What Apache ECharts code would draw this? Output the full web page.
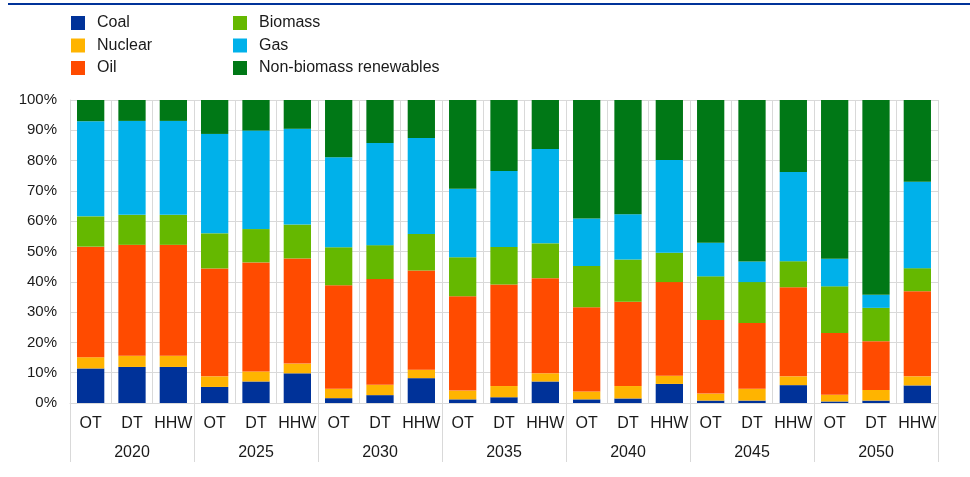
<!DOCTYPE html>
<html>
<head>
<meta charset="utf-8">
<script src="https://cdn.jsdelivr.net/npm/echarts@6/dist/echarts.min.js"></script>
<style>
  html, body { margin: 0; padding: 0; background: #fff; }
  #chart { width: 970px; height: 477px; }
</style>
</head>
<body>
<div id="chart"></div>
<script>
// Energy mix shares by scenario (OT, DT, HHW) for each year, % of total
const years = ['2020', '2025', '2030', '2035', '2040', '2045', '2050'];
const scenarios = ['OT', 'DT', 'HHW'];
const categories = years.flatMap(() => scenarios);

const coal       = [11.4, 11.9, 11.9,  5.3,  7.1,  9.8,  1.6,  2.6,  8.2,  1.2,  1.9,  7.1,  1.2,  1.5,  6.3,  0.8,  0.8,  5.9,  0.5,  0.8,  5.8];
const nuclear    = [ 3.7,  3.7,  3.7,  3.5,  3.3,  3.2,  3.1,  3.4,  2.8,  2.9,  3.7,  2.7,  2.6,  4.1,  2.7,  2.3,  3.9,  2.9,  2.2,  3.5,  3.0];
const oil        = [36.5, 36.6, 36.6, 35.6, 36.0, 34.7, 34.2, 34.9, 32.7, 31.1, 33.5, 31.4, 27.8, 27.8, 30.9, 24.3, 21.7, 29.4, 20.4, 16.1, 28.1];
const biomass    = [10.0,  9.9,  9.9, 11.6, 11.0, 11.2, 12.5, 11.2, 12.1, 12.9, 12.4, 11.5, 13.6, 14.0,  9.7, 14.4, 13.5,  8.6, 15.4, 11.0,  7.6];
const gas        = [31.4, 31.0, 31.0, 32.8, 32.5, 31.6, 29.7, 33.7, 31.7, 22.6, 25.1, 31.1, 15.7, 14.9, 30.6, 11.1,  6.8, 29.4,  9.1,  4.3, 28.5];
const renewables = [ 7.0,  6.9,  6.9, 11.2, 10.1,  9.5, 18.9, 14.2, 12.5, 29.3, 23.4, 16.2, 39.1, 37.7, 19.8, 47.1, 53.3, 23.8, 52.4, 64.3, 27.0];

const yTicks = [0, 10, 20, 30, 40, 50, 60, 70, 80, 90, 100];

const seriesDefs = [
  { name: 'Coal', data: coal, color: '#003299' },
  { name: 'Nuclear', data: nuclear, color: '#ffb400' },
  { name: 'Oil', data: oil, color: '#ff4b00' },
  { name: 'Biomass', data: biomass, color: '#65b800' },
  { name: 'Gas', data: gas, color: '#00b1ea' },
  { name: 'Non-biomass renewables', data: renewables, color: '#007816' }
];

const FONT = '"Liberation Sans", Arial, sans-serif';
const GRID_COLOR = '#d9d9d9';
const TEXT_COLOR = '#1a1a1a';

const chart = echarts.init(document.getElementById('chart'), null, { renderer: 'canvas' });

const legendBase = {
  orient: 'vertical',
  top: 15,
  padding: 0,
  itemWidth: 14,
  itemHeight: 14,
  itemGap: 6.5,
  icon: 'rect',
  selectedMode: false,
  textStyle: {
    fontFamily: FONT,
    fontSize: 16,
    lineHeight: 16,
    color: TEXT_COLOR,
    padding: [0, 0, 0, 7]
  }
};

chart.setOption({
  animation: false,
  textStyle: { fontFamily: FONT },
  graphic: [
    {
      type: 'rect',
      shape: { x: 8, y: 3, width: 962, height: 2 },
      style: { fill: '#003299' },
      silent: true
    }
  ],
  legend: [
    Object.assign({}, legendBase, { left: 71, data: ['Coal', 'Nuclear', 'Oil'] }),
    Object.assign({}, legendBase, { left: 233, data: ['Biomass', 'Gas', 'Non-biomass renewables'] })
  ],
  grid: { left: 70, right: 32, top: 100, bottom: 74, containLabel: false },
  xAxis: [
    {
      type: 'category',
      data: categories,
      position: 'bottom',
      axisLine: { show: true, lineStyle: { color: GRID_COLOR, width: 1 } },
      axisTick: { show: false },
      splitLine: { show: true, interval: 0, lineStyle: { color: GRID_COLOR, width: 1 } },
      axisLabel: {
        interval: 0,
        margin: 13,
        fontFamily: FONT,
        fontSize: 16,
        color: TEXT_COLOR
      }
    },
    {
      type: 'category',
      data: years,
      position: 'bottom',
      offset: 0,
      axisLine: { show: false },
      axisTick: { show: true, interval: 0, length: 59, lineStyle: { color: GRID_COLOR, width: 1 } },
      splitLine: { show: false },
      axisLabel: {
        interval: 0,
        margin: 42,
        fontFamily: FONT,
        fontSize: 16,
        color: TEXT_COLOR
      }
    }
  ],
  yAxis: {
    type: 'value',
    min: yTicks[0],
    max: yTicks[yTicks.length - 1],
    interval: yTicks[1] - yTicks[0],
    axisLine: { show: true, lineStyle: { color: GRID_COLOR } },
    axisTick: { show: false },
    splitLine: { show: true, lineStyle: { color: GRID_COLOR, width: 1 } },
    axisLabel: {
      margin: 13,
      fontFamily: FONT,
      fontSize: 15,
      color: TEXT_COLOR,
      formatter: '{value}%'
    }
  },
  series: seriesDefs.map(s => ({
    name: s.name,
    type: 'bar',
    stack: 'mix',
    xAxisIndex: 0,
    barWidth: '66%',
    data: s.data,
    itemStyle: { color: s.color },
    emphasis: { disabled: true }
  }))
});
</script>
</body>
</html>
